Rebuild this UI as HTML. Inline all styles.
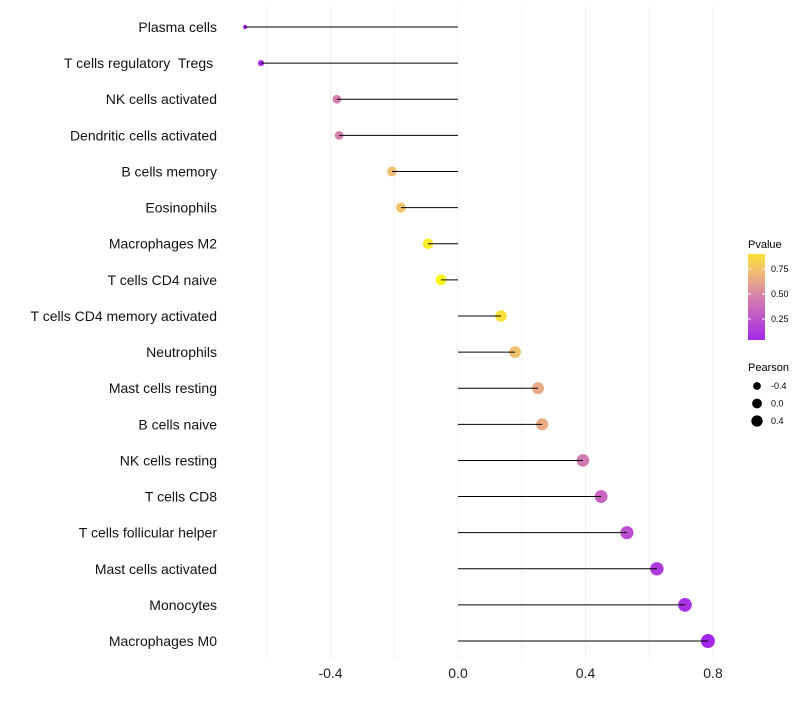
<!DOCTYPE html>
<html><head><meta charset="utf-8"><style>
body{margin:0;background:#fff;font-family:"Liberation Sans",sans-serif}
text{white-space:pre}
</style></head><body>
<svg id="c" width="800" height="700" xmlns="http://www.w3.org/2000/svg" font-family="Liberation Sans, sans-serif"></svg>
<script>
const categories=["Plasma cells","T cells regulatory  Tregs ","NK cells activated","Dendritic cells activated","B cells memory","Eosinophils","Macrophages M2","T cells CD4 naive","T cells CD4 memory activated","Neutrophils","Mast cells resting","B cells naive","NK cells resting","T cells CD8","T cells follicular helper","Mast cells activated","Monocytes","Macrophages M0"];
const pearson=[-0.668,-0.618,-0.38,-0.373,-0.207,-0.179,-0.094,-0.053,0.135,0.179,0.251,0.264,0.392,0.449,0.53,0.624,0.712,0.784];
const pvalue=[0.03,0.06,0.45,0.45,0.7,0.72,0.9,0.95,0.85,0.7,0.62,0.62,0.42,0.32,0.22,0.12,0.08,0.03];
const xTicks=[-0.4,0.0,0.4,0.8];
const gridVals=[-0.6,-0.4,-0.2,0,0.2,0.4,0.6,0.8];
const legendTicks=[0.25,0.5,0.75];
const sizeLegend=[-0.4,0.0,0.4];

const NS="http://www.w3.org/2000/svg",svg=document.getElementById('c');
const x=v=>458+v*318.75, y=i=>27+i*36.12;
const pmin=Math.min(...pearson),pmax=Math.max(...pearson);
const rad=v=>2.2+4.8*Math.sqrt(Math.max(0,(v-pmin)/(pmax-pmin)));
const stops=[[0,[160,32,240]],[0.45,[213,128,172]],[0.7,[242,191,114]],[1,[255,255,0]]];
function col(p){for(let k=1;k<stops.length;k++){if(p<=stops[k][0]){const a=stops[k-1],b=stops[k],t=(p-a[0])/(b[0]-a[0]);return 'rgb('+a[1].map((c,j)=>Math.round(c+(b[1][j]-c)*t)).join(',')+')';}}return 'rgb(255,255,0)';}
function el(t,at,p){const e=document.createElementNS(NS,t);for(const k in at)e.setAttribute(k,at[k]);(p||svg).appendChild(e);return e;}
gridVals.forEach(v=>{const g=el('line',{x1:x(v),x2:x(v),y1:5,y2:660,stroke:'#f0f0f0','stroke-width':1});

});
categories.forEach((c,i)=>{
 const t=el('text',{x:217,y:y(i)+5,'text-anchor':'end','font-size':14,fill:'#111'});t.textContent=c;
 
 
 const pt=el('circle',{cx:x(pearson[i]),cy:y(i),r:rad(pearson[i]),fill:col(pvalue[i])});
 
 
 const ln=el('line',{x1:x(0),x2:x(pearson[i]),y1:y(i),y2:y(i),stroke:'#000','stroke-width':1});
 
 
});
xTicks.forEach(v=>{const t=el('text',{x:x(v),y:678,'text-anchor':'middle','font-size':14,fill:'#222'});t.textContent=v.toFixed(1);

});
const lt=el('text',{x:748,y:248,'font-size':11,fill:'#000'});lt.textContent='Pvalue';


const defs=el('defs',{});const gr=el('linearGradient',{id:'g',x1:0,y1:1,x2:0,y2:0},defs);
for(let k=0;k<=10;k++){const p=0.04+k*0.082;el('stop',{offset:k/10,'stop-color':col(p)},gr);}
const bar=el('rect',{x:748,y:254,width:17,height:86,fill:'url(#g)'});


legendTicks.forEach(v=>{const yy=344-v*100;
 el('line',{x1:748,x2:751,y1:yy,y2:yy,stroke:'#fff'});el('line',{x1:762,x2:765,y1:yy,y2:yy,stroke:'#fff'});
 const t=el('text',{x:771,y:yy+3,'font-size':9,fill:'#000'});t.textContent=v.toFixed(2);
 
 });
const st=el('text',{x:748,y:371,'font-size':11,fill:'#000'});st.textContent='Pearson';


sizeLegend.forEach((v,k)=>{const yy=386+k*17.5;
 const c=el('circle',{cx:757,cy:yy,r:rad(v)*0.9,fill:'#000'});
 
 
 const t=el('text',{x:771,y:yy+3,'font-size':9,fill:'#000'});t.textContent=v.toFixed(1);
 
 });
</script>
</body></html>
